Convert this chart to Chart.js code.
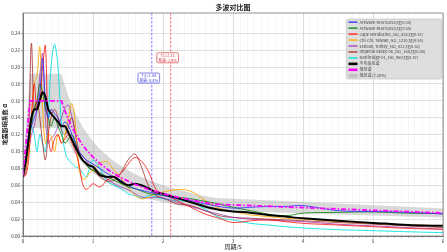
<!DOCTYPE html>
<html><head><meta charset="utf-8">
<script src="https://cdn.jsdelivr.net/npm/chart.js@4/dist/chart.umd.min.js"></script>
<style>html,body{margin:0;padding:0;background:#fff}canvas{display:block}</style>
</head><body>
<canvas id="c" width="447" height="252"></canvas>
<script>
// ---------- data ----------
const periods = [0,0.04,0.08,0.12,0.16,0.2,0.24,0.28,0.32,0.36,0.4,0.45,0.5,0.55,0.6,0.65,0.7,0.75,0.8,0.85,0.9,0.95,1.0,1.1,1.2,1.3,1.4,1.5,1.6,1.7,1.8,1.9,2.0,2.2,2.4,2.6,2.8,3.0,3.25,3.5,3.75,4.0,4.5,5.0,5.5,6.0];

const seriesNames = [
  'ArtWave-RH4TG055,Tg(0.55)',
  'ArtWave-RH4TG055,Tg(0.55)',
  'Cape Mendocino_NO_826,Tg(0.57)',
  'Chi-Chi, Taiwan_NO_1210,Tg(0.58)',
  'Erzican, Turkey_NO_821,Tg(0.52)',
  'Imperial Valley-06_NO_168,Tg(0.50)',
  'Northridge-01_NO_960,Tg(0.57)'
];
const meanName = '平均反应谱';
const designName = '规范谱';
const bandName = '规范谱(±20%)';

const blueVals   = [0.07,0.09,0.12,0.13,0.14,0.15,0.17,0.21,0.16,0.14, 0.15,0.145,0.14,0.13,0.135,0.13,0.12,0.11,0.10,0.095, 0.09,0.088,0.085,0.08,0.074,0.07,0.066,0.06,0.056,0.054, 0.052,0.05,0.048,0.044,0.042,0.038,0.035,0.033,0.034,0.035, 0.035,0.036,0.03,0.029,0.028,0.026];
const greenVals  = [0.07,0.085,0.11,0.13,0.15,0.16,0.18,0.17,0.15,0.14, 0.13,0.14,0.13,0.12,0.11,0.115,0.12,0.11,0.095,0.09, 0.085,0.08,0.078,0.074,0.07,0.066,0.062,0.058,0.056,0.053, 0.05,0.049,0.048,0.046,0.044,0.041,0.038,0.034,0.03,0.026, 0.024,0.027,0.028,0.0285,0.027,0.0265];
const redVals    = [0.07,0.072,0.09,0.14,0.18,0.15,0.16,0.20,0.225,0.12, 0.10,0.115,0.12,0.11,0.115,0.12,0.11,0.10,0.085,0.062, 0.055,0.058,0.062,0.058,0.066,0.07,0.074,0.085,0.093,0.088, 0.075,0.055,0.05,0.042,0.034,0.026,0.021,0.016,0.018,0.019, 0.017,0.015,0.013,0.011,0.009,0.008];
const orangeVals = [0.07,0.08,0.10,0.14,0.18,0.19,0.224,0.15,0.11,0.12, 0.118,0.10,0.12,0.11,0.12,0.14,0.157,0.13,0.08,0.068, 0.068,0.075,0.078,0.086,0.088,0.078,0.068,0.058,0.048,0.044, 0.046,0.05,0.052,0.055,0.053,0.042,0.033,0.029,0.025,0.023, 0.021,0.02,0.017,0.015,0.013,0.0125];
const purpleVals = [0.07,0.08,0.10,0.12,0.13,0.15,0.19,0.216,0.14,0.11, 0.115,0.12,0.13,0.14,0.152,0.155,0.14,0.12,0.10,0.095, 0.09,0.085,0.082,0.075,0.068,0.062,0.058,0.055,0.05,0.046, 0.045,0.046,0.045,0.04,0.035,0.03,0.026,0.022,0.02,0.019, 0.018,0.017,0.014,0.012,0.01,0.008];
const brownVals  = [0.07,0.075,0.12,0.228,0.15,0.16,0.14,0.11,0.09,0.12, 0.14,0.15,0.14,0.125,0.12,0.13,0.14,0.12,0.10,0.09, 0.085,0.08,0.078,0.07,0.065,0.066,0.075,0.09,0.097,0.08, 0.058,0.048,0.045,0.038,0.036,0.03,0.024,0.022,0.021,0.02, 0.019,0.018,0.016,0.014,0.012,0.010];
const cyanVals   = [0.07,0.09,0.11,0.13,0.12,0.10,0.12,0.11,0.10,0.14, 0.20,0.227,0.20,0.13,0.10,0.09,0.086,0.082,0.08,0.075, 0.07,0.08,0.09,0.08,0.065,0.06,0.056,0.05,0.048,0.045, 0.048,0.046,0.044,0.042,0.04,0.032,0.022,0.019,0.015,0.013, 0.011,0.0095,0.0075,0.0063,0.005,0.004];
const meanVals   = [0.07,0.09,0.115,0.14,0.15,0.15,0.16,0.17,0.165,0.15, 0.145,0.14,0.135,0.13,0.13,0.122,0.114,0.105,0.097,0.09, 0.086,0.083,0.082,0.072,0.07,0.07,0.064,0.06,0.062,0.06, 0.056,0.052,0.05,0.045,0.04,0.035,0.031,0.029,0.0275,0.025, 0.023,0.021,0.018,0.0155,0.013,0.012];

const designPeriods = [0,0.1,0.55,0.6,0.65,0.7,0.75,0.8,0.85,0.9,0.95,1.0,1.1,1.2,1.3,1.4,1.5,1.6,1.7,1.8,1.9,2.0,2.2,2.4,2.6,2.75,3.0,3.5,4.0,4.5,5.0,5.5,6.0];
const designVals = [0.072,0.16,0.16,0.148,0.1377,0.1288,0.121,0.1142,0.1081,0.1027,0.0978,0.0934,0.0857,0.0793,0.0738,0.069,0.0649,0.0612,0.058,0.055,0.0524,0.0501,0.046,0.0425,0.0395,0.0376,0.0368,0.0352,0.0336,0.032,0.0304,0.0288,0.0272];
const bandUpper  = [0.0864,0.192,0.192,0.1776,0.1652,0.1546,0.1452,0.137,0.1297,0.1232,0.1174,0.1121,0.1028,0.0952,0.0886,0.0828,0.0779,0.0734,0.0696,0.066,0.0629,0.0601,0.0552,0.051,0.0474,0.0451,0.0442,0.0422,0.0403,0.0384,0.0365,0.0346,0.0326];
const bandLower  = [0.0576,0.128,0.128,0.1184,0.1102,0.103,0.0968,0.0914,0.0865,0.0822,0.0782,0.0747,0.0686,0.0634,0.059,0.0552,0.0519,0.049,0.0464,0.044,0.0419,0.0401,0.0368,0.034,0.0316,0.0301,0.0294,0.0282,0.0269,0.0256,0.0243,0.023,0.0218];

const yTicks = [0,0.02,0.04,0.06,0.08,0.10,0.12,0.14,0.16,0.18,0.20,0.22,0.24];
const xMajorTicks = [0,1,2,3,4,5,6];

const markerPeriods = [1.84, 2.11];
const markerTexts = [['T2=1.84','相差-8.4%'], ['T1=2.11','相差-3.9%']];
const markerBoxLevels = [0.187, 0.211];

// ---------- styles ----------
const FONT = '"Noto Sans CJK SC", "Noto Sans", sans-serif';
const recColors = ['rgba(30,30,255,0.75)','rgba(0,128,0,0.8)','rgba(255,0,0,0.75)','rgba(255,165,0,0.85)','rgba(150,40,170,0.7)','rgba(165,42,42,0.8)','rgba(0,225,225,0.85)'];
const recVals = [blueVals, greenVals, redVals, orangeVals, purpleVals, brownVals, cyanVals];
const pts = (xs, ys) => xs.map((x, i) => ({x: x, y: ys[i]}));

const datasets = [];
recVals.forEach((v, i) => datasets.push({
  label: seriesNames[i], data: pts(periods, v), borderColor: recColors[i], backgroundColor: recColors[i],
  borderWidth: 1, pointRadius: 0, tension: 0.35, order: 5, fill: false, legendKind: 'line'
}));
datasets.push({label: meanName, data: pts(periods, meanVals), borderColor: '#000', backgroundColor:'#000', borderWidth: 2, pointRadius: 0, tension: 0.3, order: 2, fill: false, legendKind: 'line'});
datasets.push({label: designName, data: pts(designPeriods, designVals), borderColor: '#ff00ff', backgroundColor:'#ff00ff', borderWidth: 1.8, borderDash: [5,2,1.5,2], pointRadius: 0, tension: 0, order: 1, fill: false, legendKind: 'line'});
datasets.push({label: bandName, data: pts(designPeriods, bandUpper), borderColor: 'rgba(0,0,0,0)', backgroundColor: 'rgba(170,170,170,0.45)', borderWidth: 0, pointRadius: 0, tension: 0, order: 10, fill: '+1', legendKind: 'box'});
datasets.push({label: '_lower', data: pts(designPeriods, bandLower), borderColor: 'rgba(0,0,0,0)', borderWidth: 0, pointRadius: 0, tension: 0, order: 11, fill: false, legendKind: null});

const isInt = v => Math.abs(v - Math.round(v)) < 1e-6;

const framePlugin = {
  id: 'frame',
  beforeDatasetsDraw(chart) {
    const {ctx, chartArea: a, scales: {x, y}} = chart;
    ctx.save();
    markerPeriods.forEach((t, i) => {
      const px = x.getPixelForValue(t);
      ctx.strokeStyle = i === 0 ? 'rgba(80,80,255,0.85)' : 'rgba(255,70,70,0.85)';
      ctx.lineWidth = 0.9;
      ctx.setLineDash([2.5, 1.5]);
      ctx.beginPath(); ctx.moveTo(px, a.top); ctx.lineTo(px, a.bottom); ctx.stroke();
    });
    ctx.restore();
  },
  afterDatasetsDraw(chart) {
    const {ctx, chartArea: a, scales: {x, y}} = chart;
    ctx.save();
    // marker label boxes
    ctx.font = '4px ' + FONT;
    markerPeriods.forEach((t, i) => {
      const px = x.getPixelForValue(t) - 3;
      const py = y.getPixelForValue(markerBoxLevels[i]);
      const lines = markerTexts[i];
      const w = Math.max(...lines.map(s => ctx.measureText(s).width)) + 3;
      const h = 10;
      const col = i === 0 ? '#4a4ae0' : '#e04040';
      ctx.fillStyle = 'rgba(255,255,255,0.9)';
      ctx.strokeStyle = col; ctx.lineWidth = 0.7;
      ctx.beginPath(); ctx.roundRect(px - w/2, py - h/2, w, h, 1.5); ctx.fill(); ctx.stroke();
      ctx.fillStyle = col; ctx.textAlign = 'center'; ctx.textBaseline = 'middle';
      ctx.fillText(lines[0], px, py - 2.3);
      ctx.fillText(lines[1], px, py + 2.5);
    });
    // frame
    ctx.strokeStyle = '#777'; ctx.lineWidth = 0.8; ctx.setLineDash([]);
    ctx.strokeRect(a.left, a.top, a.right - a.left, a.bottom - a.top);
    ctx.restore();
  },
  afterDraw(chart) {
    const {ctx, chartArea: a} = chart;
    const items = chart.data.datasets.filter(d => d.legendKind);
    const bx = a.right - 96.5, by = a.top + 6, bw = 95, bh = 60;
    ctx.save();
    ctx.fillStyle = 'rgba(218,218,218,0.9)';
    ctx.strokeStyle = '#bdbdbd'; ctx.lineWidth = 0.6;
    ctx.beginPath(); ctx.roundRect(bx, by, bw, bh, 1.5); ctx.fill(); ctx.stroke();
    ctx.font = '4px ' + FONT; ctx.textBaseline = 'middle'; ctx.textAlign = 'left';
    items.forEach((d, i) => {
      const ly = by + 3.2 + i * 5.95;
      if (d.legendKind === 'box') {
        ctx.fillStyle = 'rgba(190,190,190,0.9)';
        ctx.fillRect(bx + 2, ly - 1.8, 9, 3.6);
      } else {
        ctx.strokeStyle = d.borderColor; ctx.lineWidth = d.borderWidth > 1.5 ? 2.6 : 1.6;
        ctx.beginPath(); ctx.moveTo(bx + 2, ly); ctx.lineTo(bx + 11, ly); ctx.stroke();
      }
      ctx.fillStyle = '#444';
      ctx.fillText(d.label, bx + 13, ly);
    });
    ctx.restore();
  }
};

new Chart(document.getElementById('c'), {
  type: 'line',
  data: {datasets},
  plugins: [framePlugin],
  options: {
    responsive: false, animation: false, devicePixelRatio: 1,
    layout: {padding: {left: 0, right: 4, top: 0, bottom: 0}},
    plugins: {
      legend: {display: false}, tooltip: {enabled: false},
      title: {display: true, text: '多波对比图', fullSize: false, color: '#222', font: {family: FONT, size: 7}, padding: {top: 3, bottom: 1.6}}
    },
    scales: {
      x: {
        type: 'linear', min: 0, max: 6,
        afterFit(s) { s.height = 16; },
        afterBuildTicks(s) { const t = []; for (let k = 0; k <= 60; k++) t.push({value: k / 10}); s.ticks = t; },
        ticks: {autoSkip: false, maxRotation: 0, padding: 1, color: '#333', font: {family: FONT, size: 4.5},
          callback: v => isInt(v) && xMajorTicks.includes(Math.round(v)) ? String(Math.round(v)) : ''},
        grid: {color: c => isInt(c.tick.value) ? '#cfcfcf' : '#ededed', lineWidth: c => isInt(c.tick.value) ? 0.7 : 0.5, tickLength: 2, tickColor: '#777'},
        border: {display: true, color: '#777'},
        title: {display: true, text: '周期/s', color: '#222', font: {family: FONT, size: 6}, padding: {top: 0, bottom: 1.4}}
      },
      y: {
        type: 'linear', min: 0, max: 0.264,
        afterFit(s) { s.width = 23; },
        afterBuildTicks(s) { s.ticks = yTicks.map(v => ({value: v})); },
        ticks: {autoSkip: false, padding: 1, color: '#333', font: {family: FONT, size: 4.5}, callback: v => v.toFixed(2)},
        grid: {color: '#d6d6d6', lineWidth: 0.7, tickLength: 2, tickColor: '#777'},
        border: {display: true, color: '#777'},
        title: {display: true, text: '地震影响系数 α', color: '#222', font: {family: FONT, size: 6, weight: 'bold'}, padding: {top: 1, bottom: 0}}
      }
    }
  }
});
</script>
</body></html>
